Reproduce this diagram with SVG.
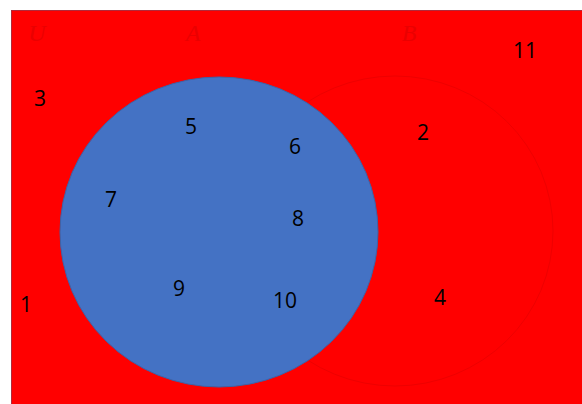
<svg xmlns="http://www.w3.org/2000/svg" width="582" height="404" viewBox="0 0 582 404">
<style>
.n{font-family:"Open Sans","Liberation Sans",sans-serif;font-size:21px;fill:#000;text-anchor:middle}
.l{font-family:"Liberation Serif",serif;font-style:italic;font-size:24px;fill:#ea0000;text-anchor:middle}
</style>
<rect id="U" x="11.5" y="10.5" width="575" height="400" fill="#ff0000" stroke="#b02a3a" stroke-width="1"/>
<g id="B"><ellipse cx="395" cy="231" rx="158" ry="155" fill="none" stroke="#ee0000" stroke-width="1"/></g>
<g id="A"><ellipse cx="219" cy="232" rx="159" ry="155" fill="#4472c4" stroke="#3d63a8" stroke-width="1"/></g>
<g id="labels">
<text class="l" x="37" y="41">U</text>
<text class="l" x="193" y="41">A</text>
<text class="l" x="409" y="41">B</text>
</g>
<g id="elements">
<text class="n" x="525" y="58">11</text>
<text class="n" x="40" y="106">3</text>
<text class="n" x="191" y="134">5</text>
<text class="n" x="295" y="154">6</text>
<text class="n" x="423" y="140">2</text>
<text class="n" x="111" y="207">7</text>
<text class="n" x="298" y="226">8</text>
<text class="n" x="179" y="296">9</text>
<text class="n" x="285" y="308">10</text>
<text class="n" x="440" y="305">4</text>
<text class="n" x="26" y="312">1</text>
</g>
</svg>
